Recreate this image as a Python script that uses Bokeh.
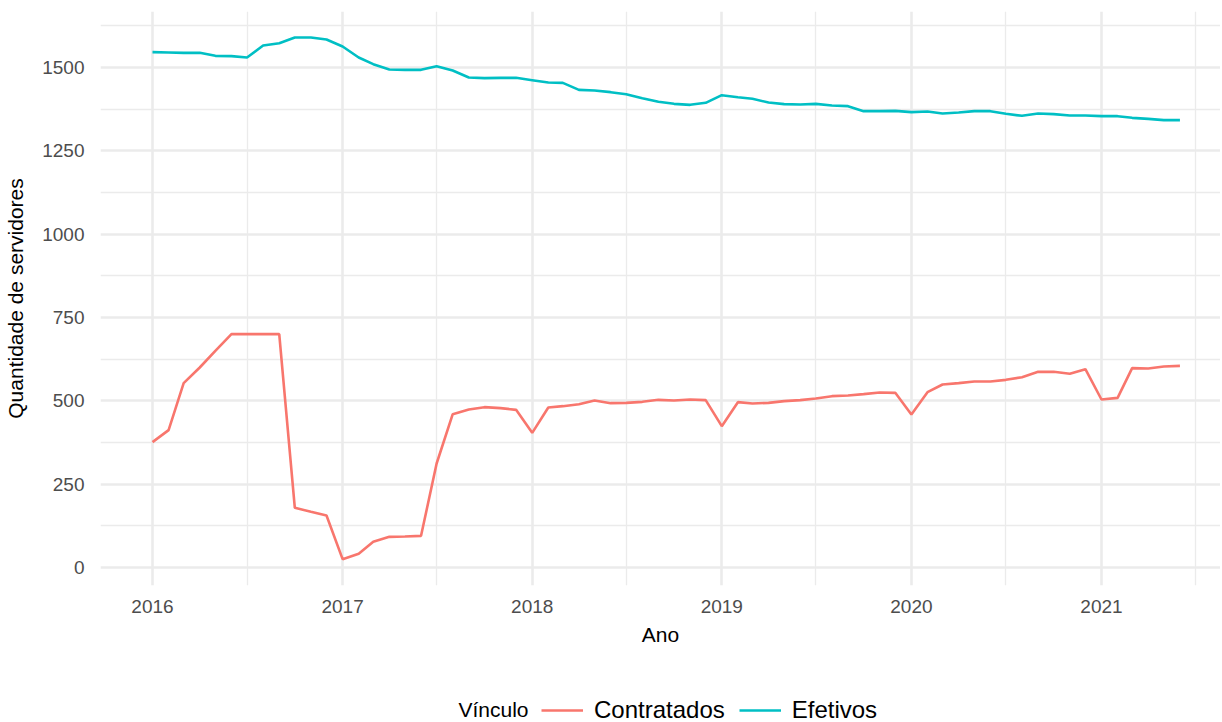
import pandas as pd
from bokeh.plotting import figure
from bokeh.layouts import column
from bokeh.models import (Range1d, FixedTicker, DatetimeTickFormatter, Legend,
                          LegendItem, Label, ColumnDataSource)
from bokeh.embed import file_html
from bokeh.resources import INLINE

# ---------------- data ----------------
contratados_datas = [
    "2016-01-01", "2016-02-01", "2016-03-01", "2016-04-01", "2016-05-01", "2016-06-01",
    "2016-07-01", "2016-08-01", "2016-09-01", "2016-10-01", "2016-11-01", "2016-12-01",
    "2017-01-01", "2017-02-01", "2017-03-01", "2017-04-01", "2017-05-01", "2017-06-01",
    "2017-07-01", "2017-08-01", "2017-09-01", "2017-10-01", "2017-11-01", "2017-12-01",
    "2018-01-01", "2018-02-01", "2018-03-01", "2018-04-01", "2018-05-01", "2018-06-01",
    "2018-07-01", "2018-08-01", "2018-09-01", "2018-10-01", "2018-11-01", "2018-12-01",
    "2019-01-01", "2019-02-01", "2019-03-01", "2019-04-01", "2019-05-01", "2019-06-01",
    "2019-07-01", "2019-08-01", "2019-09-01", "2019-10-01", "2019-11-01", "2019-12-01",
    "2020-01-01", "2020-02-01", "2020-03-01", "2020-04-01", "2020-05-01", "2020-06-01",
    "2020-07-01", "2020-08-01", "2020-09-01", "2020-10-01", "2020-11-01", "2020-12-01",
    "2021-01-01", "2021-02-01", "2021-03-01", "2021-04-01", "2021-05-01", "2021-06-01",
]
contratados_valores = [
    376, 412, 553, 600, 650, 700,
    700, 700, 700, 179, 167, 156,
    25, 41, 77, 92, 93, 95,
    312, 460, 474, 481, 478, 473,
    404, 480, 484, 490, 501, 493,
    494, 497, 503, 501, 504, 502,
    424, 496, 492, 494, 499, 502,
    507, 514, 516, 520, 525, 524,
    459, 526, 549, 553, 558, 558,
    563, 571, 587, 587, 581, 595,
    504, 509, 598, 597, 603, 605,
]
efetivos_datas = list(contratados_datas)
efetivos_valores = [
    1546, 1545, 1544, 1544, 1535, 1534,
    1530, 1566, 1573, 1590, 1590, 1584,
    1563, 1530, 1510, 1494, 1493, 1493,
    1504, 1491, 1470, 1468, 1469, 1469,
    1462, 1455, 1454, 1433, 1431, 1426,
    1420, 1408, 1397, 1391, 1388, 1394,
    1417, 1411, 1406, 1395, 1390, 1389,
    1391, 1386, 1384, 1369, 1369, 1370,
    1366, 1368, 1362, 1365, 1369, 1369,
    1361, 1355, 1362, 1360, 1356, 1356,
    1354, 1354, 1349, 1346, 1342, 1342,
]
series_nomes = ["Contratados", "Efetivos"]
series_cores = ["#F8766D", "#00BFC4"]
legenda_titulo = "Vínculo"
eixo_x_titulo = "Ano"
eixo_y_titulo = "Quantidade de servidores"
anos_ticks = [2016, 2017, 2018, 2019, 2020, 2021]
y_ticks = [0, 250, 500, 750, 1000, 1250, 1500]
y_minor_ticks = [125, 375, 625, 875, 1125, 1375, 1625]

# ---------------- figure ----------------
FONT = "Liberation Sans"
W = 1220
FRAME_LEFT = 100


def ms(ts):
    return pd.Timestamp(ts).value // 10**6


x_start = pd.Timestamp("2016-01-01") - pd.Timedelta(days=100.1)
x_end = pd.Timestamp("2021-01-01") + pd.Timedelta(days=229.1)

p = figure(width=W, height=690, output_backend="svg", toolbar_location=None,
           x_axis_type="datetime",
           x_range=Range1d(x_start, x_end), y_range=Range1d(-54, 1668),
           min_border_left=FRAME_LEFT, min_border_right=0, min_border_top=11,
           min_border_bottom=105)
p.outline_line_color = None
p.background_fill_color = "white"
p.border_fill_color = "white"

major_x = [ms(f"{a}-01-01") for a in anos_ticks]
minor_x = [ms(f"{a}-07-01") for a in [anos_ticks[0] - 1] + anos_ticks]
p.xaxis.ticker = FixedTicker(ticks=major_x, minor_ticks=minor_x)
p.xaxis.formatter = DatetimeTickFormatter(years="%Y", months="%Y", days="%Y",
                                          hours="%Y", minutes="%Y")
p.yaxis.ticker = FixedTicker(ticks=y_ticks, minor_ticks=y_minor_ticks)

for ax in (p.xaxis, p.yaxis):
    ax.axis_line_color = None
    ax.major_tick_line_color = None
    ax.minor_tick_line_color = None
    ax.major_tick_out = 0
    ax.major_tick_in = 0
    ax.minor_tick_out = 0
    ax.minor_tick_in = 0
    ax.major_label_text_font = FONT
    ax.major_label_text_font_size = "19px"
    ax.major_label_text_color = "#4D4D4D"
    ax.axis_label_text_font = FONT
    ax.axis_label_text_font_size = "21px"
    ax.axis_label_text_font_style = "normal"
    ax.axis_label_text_color = "black"

p.xaxis.axis_label = eixo_x_titulo
p.yaxis.axis_label = eixo_y_titulo
p.xaxis.major_label_standoff = 14
p.xaxis.axis_label_standoff = 7
p.yaxis.major_label_standoff = 16
p.yaxis.axis_label_standoff = 12

for g in (p.xgrid, p.ygrid):
    g.grid_line_color = "#EBEBEB"
    g.grid_line_width = 2.6
    g.minor_grid_line_color = "#EBEBEB"
    g.minor_grid_line_width = 1.3

for datas, valores, cor in [(contratados_datas, contratados_valores, series_cores[0]),
                            (efetivos_datas, efetivos_valores, series_cores[1])]:
    src = ColumnDataSource(dict(x=pd.to_datetime(datas), y=valores))
    p.line("x", "y", source=src, line_color=cor, line_width=2.6)

# ---------------- legend strip ----------------
leg = figure(width=W, height=32, output_backend="svg", toolbar_location=None,
             x_range=Range1d(0, 1), y_range=Range1d(0, 1),
             x_axis_location=None, y_axis_location=None,
             min_border_left=FRAME_LEFT, min_border_right=0,
             min_border_top=0, min_border_bottom=0)
leg.outline_line_color = None
leg.xgrid.visible = False
leg.ygrid.visible = False
leg.border_fill_color = "white"

chaves = []
for nome, cor in zip(series_nomes, series_cores):
    # key-only renderer: its points lie outside the strip's visible range
    r = leg.line(x=[-10, -9], y=[-10, -9], line_color=cor, line_width=2.6)
    chaves.append(LegendItem(label=nome, renderers=[r]))

legend = Legend(
    items=chaves, orientation="horizontal", location=(541 - FRAME_LEFT, -2),
    padding=0, margin=0, spacing=14, label_standoff=11,
    glyph_width=42, glyph_height=10, label_height=10,
    label_text_font=FONT, label_text_font_size="24px", label_text_color="black",
    border_line_color=None, background_fill_alpha=0,
)
leg.add_layout(legend, "center")
leg.add_layout(Label(x=528 - FRAME_LEFT, y=13, x_units="screen", y_units="screen",
                     text=legenda_titulo, text_align="right", text_baseline="middle",
                     text_font=FONT, text_font_size="21px", text_color="black"))

layout = column(p, leg, spacing=0)
open("out.html", "w").write(file_html(layout, INLINE))
